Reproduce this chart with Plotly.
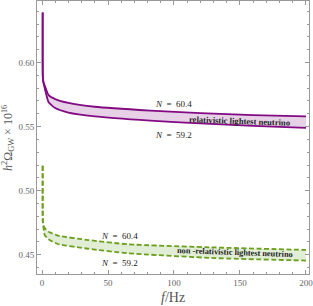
import plotly.graph_objects as go

# Data
f_rel = [0.5, 0.6, 1, 2.3, 5, 10, 20, 40, 82, 120, 160, 200]
rel_upper = [0.639, 0.589, 0.585, 0.5813, 0.5745, 0.5715, 0.5685, 0.5655, 0.5625, 0.5605, 0.559, 0.558]  # N = 60.4
rel_lower = [0.639, 0.589, 0.585, 0.5789, 0.569, 0.5645, 0.561, 0.558, 0.5547, 0.5525, 0.5505, 0.549]    # N = 59.2

f_nr = [0.5, 0.6, 1, 2, 5, 12, 35, 65, 131, 200]
nr_upper = [0.5195, 0.476, 0.4735, 0.4708, 0.468, 0.465, 0.4615, 0.4582, 0.4557, 0.4538]  # N = 60.4
nr_lower = [0.5195, 0.476, 0.472, 0.4656, 0.462, 0.4584, 0.4547, 0.4512, 0.4474, 0.4455]  # N = 59.2

x_ticks = [0, 50, 100, 150, 200]
y_ticks = [0.45, 0.50, 0.55, 0.60]
y_tick_labels = ["0.45", "0.50", "0.55", "0.60"]

PURPLE = "#820a82"
PURPLE_FILL = "#e6d1e6"
GREEN = "#6a9f1e"
GREEN_FILL = "#e1edd4"
SERIF = "Liberation Serif"

fig = go.Figure()
fig.add_trace(go.Scatter(x=f_rel, y=rel_lower, mode="lines", line=dict(color=PURPLE, width=1.8, shape="spline", smoothing=0.5), showlegend=False))
fig.add_trace(go.Scatter(x=f_rel, y=rel_upper, mode="lines", fill="tonexty", fillcolor=PURPLE_FILL,
                         line=dict(color=PURPLE, width=1.8, shape="spline", smoothing=0.5), showlegend=False))
fig.add_trace(go.Scatter(x=f_nr, y=nr_lower, mode="lines", line=dict(color=GREEN, width=1.8, dash="5px,2.5px", shape="spline", smoothing=0.5), showlegend=False))
fig.add_trace(go.Scatter(x=f_nr, y=nr_upper, mode="lines", fill="tonexty", fillcolor=GREEN_FILL,
                         line=dict(color=GREEN, width=1.8, dash="5px,2.5px", shape="spline", smoothing=0.5), showlegend=False))

ann_font = dict(family=SERIF, size=9, color="#222")
fig.add_annotation(x=100, y=0.568, text="<i>N</i>  =  60.4", showarrow=False, font=ann_font)
fig.add_annotation(x=100, y=0.5438, text="<i>N</i>  =  59.2", showarrow=False, font=ann_font)
fig.add_annotation(x=150, y=0.554, text="<b>relativistic lightest neutrino</b>", showarrow=False,
                   font=dict(family=SERIF, size=8.6, color="#222"), textangle=2)
fig.add_annotation(x=59, y=0.4648, text="<i>N</i>  =  60.4", showarrow=False, font=ann_font)
fig.add_annotation(x=59, y=0.4438, text="<i>N</i>  =  59.2", showarrow=False, font=ann_font)
fig.add_annotation(x=146, y=0.4516, text="<b>non -relativistic lightest neutrino</b>", showarrow=False,
                   font=dict(family=SERIF, size=8.3, color="#222"), textangle=2)

# Axis titles placed as annotations (paper coords)
fig.add_annotation(xref="paper", yref="paper", x=0.5, y=-0.085, yanchor="middle", xanchor="center",
                   text="<i>f</i>/Hz", showarrow=False, font=dict(family=SERIF, size=14, color="#555"))
fig.add_annotation(xref="paper", yref="paper", x=-0.105, y=0.5, xanchor="center", yanchor="middle",
                   text="<i>h</i><sup>2</sup>Ω<sub>GW</sub> × 10<sup>16</sup>", textangle=-90, showarrow=False,
                   font=dict(family=SERIF, size=12, color="#555"))

axis_common = dict(showgrid=False, zeroline=False, showline=True, linecolor="#999", linewidth=1,
                   mirror="allticks", ticks="inside", ticklen=4, tickcolor="#999", automargin=False,
                   ticklabeloverflow="allow",
                   tickfont=dict(family=SERIF, size=9, color="#666"))
fig.update_xaxes(range=[-3.8, 202.3], tickvals=x_ticks,
                 minor=dict(dtick=10, ticks="inside", ticklen=2, tickcolor="#999"),
                 **axis_common)
fig.update_yaxes(range=[0.435, 0.648], tickvals=y_ticks, ticktext=y_tick_labels,
                 minor=dict(dtick=0.01, ticks="inside", ticklen=2, tickcolor="#999"),
                 **axis_common)
fig.update_layout(width=313, height=306, margin=dict(l=37, r=4, t=1, b=32),
                  plot_bgcolor="white", paper_bgcolor="white")
fig.write_html("out.html", config={"displayModeBar": False},
               post_script="document.body.style.margin='0';document.body.style.overflow='hidden';")
